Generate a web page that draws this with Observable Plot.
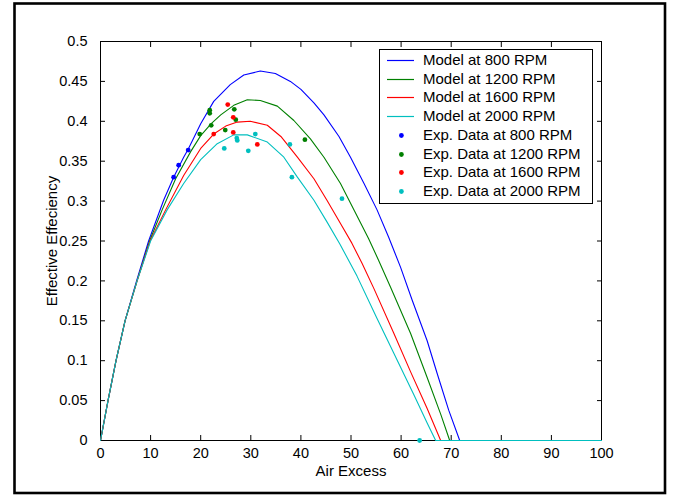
<!DOCTYPE html>
<html>
<head>
<meta charset="utf-8">
<script src="https://cdn.jsdelivr.net/npm/d3@7"></script>
<script src="https://cdn.jsdelivr.net/npm/@observablehq/plot@0.6"></script>
<style>
  body { margin: 0; background: #fff; }
  #wrap { position: relative; width: 673px; height: 495px; font-family: "Liberation Sans", Arial, sans-serif; }
  #legend { position: absolute; left: 379px; top: 49px; width: 212px; height: 153px; border: 1.3px solid #000; background: #fff; }
  .row { position: absolute; left: 0; width: 100%; height: 18.7px; line-height: 18.7px; font-size: 15px; color: #000; white-space: nowrap; }
  .sw { position: absolute; left: 0; top: 0; }
  .lbl { position: absolute; left: 43px; top: 0; }
</style>
</head>
<body>
<div id="wrap"><div id="legend"></div></div>
<script>
// ---- Data ----
const rpmLabels = ["800", "1200", "1600", "2000"];
const seriesColors = ["#0000ff", "#008000", "#ff0000", "#00bfbf"];

const model800X = [0, 1.5, 3.1, 4.9, 7.2, 9.6, 12.6, 14.6, 16.6, 17.5, 20.0, 22.6, 25.9, 28.6, 31.9, 34.9, 37.9, 40.0, 42.6, 44.6, 47.6, 49.9, 52.6, 55.2, 57.5, 59.9, 62.2, 65.2, 67.2, 69.5, 71.7, 100];
const model800Y = [0, 0.05, 0.1, 0.15, 0.2, 0.25, 0.301, 0.330, 0.355, 0.365, 0.397, 0.425, 0.446, 0.458, 0.463, 0.460, 0.450, 0.440, 0.423, 0.408, 0.381, 0.355, 0.322, 0.289, 0.255, 0.217, 0.176, 0.125, 0.084, 0.038, 0, 0];

const model1200X = [0, 1.5, 3.1, 4.9, 7.3, 9.8, 12.3, 15.0, 18.0, 20.0, 22.1, 24.0, 26.6, 29.3, 31.9, 35.3, 38.6, 41.9, 44.6, 47.9, 50.6, 53.5, 55.5, 57.9, 61.9, 65.2, 67.9, 69.7, 100];
const model1200Y = [0, 0.05, 0.1, 0.15, 0.2, 0.25, 0.289, 0.328, 0.362, 0.382, 0.397, 0.408, 0.420, 0.427, 0.426, 0.419, 0.401, 0.378, 0.355, 0.322, 0.289, 0.253, 0.226, 0.192, 0.134, 0.079, 0.033, 0, 0];

const model1600X = [0, 1.5, 3.1, 4.9, 7.3, 9.9, 13.0, 16.6, 20.0, 22.6, 25.0, 27.3, 29.9, 33.3, 36.0, 39.3, 42.6, 45.2, 47.9, 50.2, 52.2, 54.6, 58.5, 61.9, 65.2, 67.9, 100];
const model1600Y = [0, 0.05, 0.1, 0.15, 0.2, 0.25, 0.289, 0.332, 0.366, 0.384, 0.394, 0.399, 0.400, 0.395, 0.381, 0.355, 0.328, 0.301, 0.272, 0.247, 0.222, 0.190, 0.135, 0.086, 0.040, 0, 0];

const model2000X = [0, 1.5, 3.1, 4.9, 7.3, 10.0, 13.3, 16.6, 20.0, 23.3, 26.6, 29.3, 33.3, 36.6, 39.3, 42.6, 45.2, 47.8, 51.2, 55.2, 58.5, 62.5, 65.2, 66.9, 100];
const model2000Y = [0, 0.05, 0.1, 0.15, 0.2, 0.25, 0.289, 0.322, 0.352, 0.372, 0.383, 0.383, 0.374, 0.355, 0.330, 0.301, 0.274, 0.246, 0.206, 0.153, 0.110, 0.058, 0.022, 0, 0];

const exp800X = [14.6, 15.6, 17.5];
const exp800Y = [0.330, 0.345, 0.364];
const exp1200X = [19.8, 21.8, 21.8, 22.1, 24.9, 26.7, 27.0, 40.8];
const exp1200Y = [0.384, 0.414, 0.410, 0.395, 0.389, 0.415, 0.402, 0.377];
const exp1600X = [22.6, 25.4, 26.5, 26.5, 31.3];
const exp1600Y = [0.384, 0.421, 0.405, 0.386, 0.371];
const exp2000X = [24.7, 27.2, 27.3, 29.5, 30.9, 37.8, 38.2, 48.2, 63.7];
const exp2000Y = [0.366, 0.379, 0.376, 0.363, 0.384, 0.371, 0.330, 0.303, 0];

const xTicks = [0, 10, 20, 30, 40, 50, 60, 70, 80, 90, 100];
const yTicks = [0, 0.05, 0.1, 0.15, 0.2, 0.25, 0.3, 0.35, 0.4, 0.45, 0.5];
const xLabel = "Air Excess";
const yLabel = "Effective Effeciency";

// ---- Build ----
const pair = (xs, ys) => xs.map((x, i) => ({x, y: ys[i]}));
const models = [pair(model800X, model800Y), pair(model1200X, model1200Y), pair(model1600X, model1600Y), pair(model2000X, model2000Y)];
const exps = [pair(exp800X, exp800Y), pair(exp1200X, exp1200Y), pair(exp1600X, exp1600Y), pair(exp2000X, exp2000Y)];

const fontFamily = "Liberation Sans, Arial, sans-serif";
const blank = () => "";

const chart = Plot.plot({
  width: 673,
  height: 495,
  marginLeft: 100,
  marginRight: 72,
  marginTop: 41,
  marginBottom: 55,
  style: {fontFamily, fontSize: "14.5px", background: "white", color: "black", overflow: "visible"},
  x: {domain: [0, 100]},
  y: {domain: [0, 0.5]},
  marks: [
    Plot.frame({stroke: "#000", strokeWidth: 1}),
    Plot.axisX({anchor: "bottom", ticks: xTicks, tickSize: 0, tickPadding: 7, tickFormat: d => String(d), label: null, fontSize: 14.5}),
    Plot.axisY({anchor: "left", ticks: yTicks, tickSize: 0, tickPadding: 13, tickFormat: d => String(d), label: null, fontSize: 14.5}),
    Plot.axisX({anchor: "bottom", ticks: xTicks, tickSize: 5, dy: -5, tickFormat: blank, label: null}),
    Plot.axisX({anchor: "top", ticks: xTicks, tickSize: 5, dy: 5, tickFormat: blank, label: null}),
    Plot.axisY({anchor: "left", ticks: yTicks, tickSize: 5, dx: 5, tickFormat: blank, label: null}),
    Plot.axisY({anchor: "right", ticks: yTicks, tickSize: 5, dx: -5, tickFormat: blank, label: null}),
    ...models.map((d, i) => Plot.line(d, {x: "x", y: "y", stroke: seriesColors[i], strokeWidth: 1.1})),
    ...exps.map((d, i) => Plot.dot(d, {x: "x", y: "y", r: 2.4, fill: seriesColors[i], stroke: null})),
    Plot.text([xLabel], {text: d => d, frameAnchor: "bottom", lineAnchor: "middle", textAnchor: "middle", dy: 31, fontSize: 15}),
    Plot.text([yLabel], {text: d => d, frameAnchor: "left", lineAnchor: "middle", textAnchor: "middle", rotate: -90, dx: -48, fontSize: 15})
  ]
});

d3.select(chart).append("rect")
  .attr("x", 14.5).attr("y", 3.5).attr("width", 650.5).attr("height", 489.5)
  .attr("fill", "none").attr("stroke", "#000").attr("stroke-width", 2.6);

const wrap = document.getElementById("wrap");
wrap.insertBefore(chart, wrap.firstChild);

// legend
const legend = document.getElementById("legend");
const entries = [
  ...rpmLabels.map((r, i) => ({label: `Model at ${r} RPM`, color: seriesColors[i], type: "line"})),
  ...rpmLabels.map((r, i) => ({label: `Exp. Data at ${r} RPM`, color: seriesColors[i], type: "dot"}))
];
entries.forEach((e, i) => {
  const row = document.createElement("div");
  row.className = "row";
  row.style.top = (1.0 + i * 18.7) + "px";
  const sw = d3.create("svg").attr("class", "sw").attr("width", 40).attr("height", 19);
  if (e.type === "line") {
    sw.append("line").attr("x1", 7).attr("x2", 34).attr("y1", 9.5).attr("y2", 9.5)
      .attr("stroke", e.color).attr("stroke-width", 1.2);
  } else {
    sw.append("circle").attr("cx", 21.4).attr("cy", 9.5).attr("r", 2.4).attr("fill", e.color);
  }
  const t = document.createElement("span");
  t.className = "lbl";
  t.textContent = e.label;
  row.appendChild(sw.node());
  row.appendChild(t);
  legend.appendChild(row);
});
</script>
</body>
</html>
